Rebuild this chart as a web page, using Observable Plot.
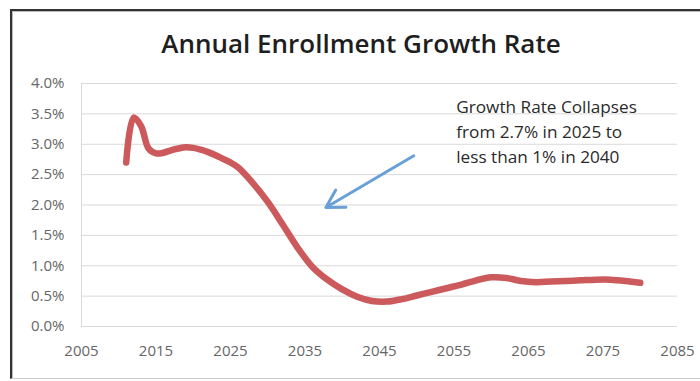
<!DOCTYPE html>
<html><head><meta charset="utf-8">
<script src="https://cdn.jsdelivr.net/npm/d3@7"></script>
<script src="https://cdn.jsdelivr.net/npm/@observablehq/plot@0.6"></script>
<style>
body{margin:0;background:#fff;overflow:hidden;}
#wrap{position:relative;width:700px;height:381px;overflow:hidden;font-family:"Open Sans",sans-serif;}
#frame{position:absolute;left:10px;top:9px;width:690px;height:367px;border-left:2px solid #333;border-top:2px solid #333;border-bottom:1px solid #ccc;box-shadow:inset 1px 1px 0 #bbb;box-sizing:content-box;}
#title{position:absolute;left:0;width:722px;top:25px;text-align:center;font-size:26px;font-weight:600;color:#1e1e1e;line-height:36px;}
#chart{position:absolute;left:0;top:0;}
</style></head>
<body>
<div id="wrap"><div id="frame"></div><div id="title">Annual Enrollment Growth Rate</div><div id="chart"></div></div>
<script>
const years = [2011,2012,2013,2014,2015,2016,2017,2018,2019,2020,2021,2022,2023,2024,2025,2026,2028,2030,2032,2034,2036,2038,2040,2042,2044,2046,2048,2050,2052,2054,2056,2058,2060,2062,2064,2066,2068,2070,2072,2074,2076,2078,2080];
const rates = [2.70,3.44,3.30,2.93,2.85,2.86,2.90,2.93,2.95,2.94,2.91,2.87,2.82,2.76,2.70,2.62,2.36,2.05,1.68,1.30,0.98,0.77,0.61,0.49,0.42,0.41,0.45,0.51,0.57,0.63,0.69,0.76,0.81,0.80,0.75,0.73,0.74,0.75,0.76,0.77,0.77,0.75,0.72];
const xTicks = [2005,2015,2025,2035,2045,2055,2065,2075,2085];
const yTicks = [0,0.5,1.0,1.5,2.0,2.5,3.0,3.5,4.0];
const noteLines = ["Growth Rate Collapses","from 2.7% in 2025 to","less than 1% in 2040"];
const noteAt = {year: 2055.3, rate: 3.235};
const arrowFrom = {year: 2049.6, rate: 2.81};
const arrowTo = {year: 2037.8, rate: 1.96};

const data = years.map((y,i)=>({year:y, rate:rates[i]}));

const chart = Plot.plot({
  width:700, height:381,
  marginLeft:81, marginRight:23, marginTop:83, marginBottom:55,
  style:{background:"transparent", fontFamily:"Open Sans, sans-serif", fontSize:"15px", color:"#595959", overflow:"visible"},
  x:{domain:[2005,2085]},
  y:{domain:[0,4]},
  marks:[
    Plot.ruleY(yTicks, {stroke:"#d9d9d9", strokeWidth:1}),
    Plot.ruleX([2005], {stroke:"#d9d9d9", strokeWidth:1}),
    Plot.axisX({ticks:xTicks, tickSize:0, tickPadding:19, tickFormat:d=>String(d), label:null, fill:"#666"}),
    Plot.axisY({ticks:yTicks, tickSize:0, tickPadding:17, tickFormat:d=>d.toFixed(1)+"%", label:null, fill:"#666"}),
    Plot.line(data, {x:"year", y:"rate", stroke:"#cc5a5c", strokeWidth:6.5, curve:"catmull-rom", strokeLinecap:"round", strokeLinejoin:"round"}),
    Plot.arrow([{}], {x1:()=>arrowFrom.year, y1:()=>arrowFrom.rate, x2:()=>arrowTo.year, y2:()=>arrowTo.rate, stroke:"#6aa0d8", strokeWidth:3, headLength:10, headAngle:60}),
    Plot.text([noteLines.join("\n")], {x:()=>noteAt.year, y:()=>noteAt.rate, text:d=>d, textAnchor:"start", lineAnchor:"middle", lineHeight:1.44, fontSize:17.2, fill:"#2a2a2a", fontWeight:500})
  ]
});
document.getElementById("chart").appendChild(chart);
</script>
</body></html>
